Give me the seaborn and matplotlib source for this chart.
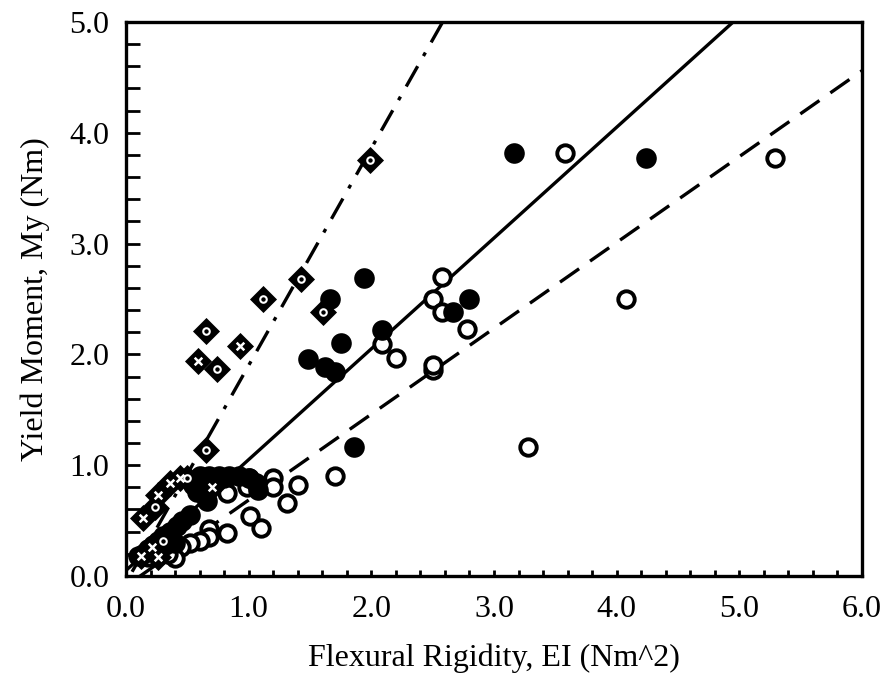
import numpy as np
import pandas as pd
import matplotlib
matplotlib.use("Agg")
import matplotlib.pyplot as plt
import seaborn as sns
from matplotlib.ticker import MultipleLocator, FormatStrFormatter

# filled circles
filled_x = [3.16, 4.24, 1.94, 1.66, 2.09, 2.80, 2.67, 1.48, 1.62, 1.70, 1.75, 1.86,
            0.60, 0.68, 0.76, 0.84, 0.92, 1.00, 1.06, 1.08, 0.55, 0.58, 0.66, 0.52,
            0.46, 0.42, 0.36, 0.30, 0.26, 0.22, 0.18, 0.14, 0.40, 0.32]
filled_y = [3.82, 3.77, 2.69, 2.50, 2.22, 2.50, 2.38, 1.96, 1.89, 1.84, 2.10, 1.16,
            0.90, 0.90, 0.90, 0.90, 0.90, 0.88, 0.84, 0.78, 0.82, 0.76, 0.68, 0.55,
            0.50, 0.45, 0.40, 0.36, 0.32, 0.28, 0.24, 0.20, 0.30, 0.28]

# open circles
open_x = [3.58, 5.29, 4.08, 3.28, 2.58, 2.50, 2.58, 2.78, 2.09, 2.20, 2.50, 2.50,
          1.70, 1.40, 1.31, 1.20, 1.20, 1.01, 1.10, 1.00, 0.99, 0.82, 0.82, 0.68,
          0.68, 0.60, 0.52, 0.45, 0.40, 0.34, 0.26, 0.18, 0.10, 0.80]
open_y = [3.82, 3.77, 2.50, 1.16, 2.70, 2.50, 2.38, 2.23, 2.09, 1.97, 1.86, 1.90,
          0.90, 0.82, 0.66, 0.88, 0.80, 0.54, 0.43, 0.88, 0.80, 0.75, 0.39, 0.42,
          0.35, 0.32, 0.30, 0.26, 0.16, 0.20, 0.18, 0.17, 0.18, 0.88]

# diamonds, with inner symbol
diam_x = [1.99, 1.43, 1.12, 1.61, 0.65, 0.59, 0.74, 0.93, 0.65, 0.14,
          0.24, 0.26, 0.36, 0.44, 0.50, 0.30, 0.21, 0.26, 0.12, 0.70]
diam_y = [3.75, 2.68, 2.50, 2.38, 2.21, 1.94, 1.87, 2.08, 1.14, 0.52,
          0.62, 0.73, 0.84, 0.88, 0.88, 0.32, 0.26, 0.17, 0.18, 0.80]
diam_in = ["o", "o", "o", "o", "o", "x", "o", "x", "o", "x",
           "o", "x", "x", "x", "o", "o", "x", "x", "x", "x"]

# fitted lines: (slope, intercept, x start, x end)
solid_fit = (1.00, 0.05, 0.0, 4.95)
dashed_fit = (0.775, -0.09, 0.11, 6.0)
dashdot_fit = (1.96, -0.06, 0.05, 2.58)

sns.set_style("ticks")
plt.rcParams["font.family"] = ["Liberation Serif", "DejaVu Serif"]
plt.rcParams["text.color"] = "black"
plt.rcParams["axes.labelcolor"] = "black"

fig = plt.figure(figsize=(8.89, 6.83), dpi=100)
ax = fig.add_axes([0.1417, 0.1567, 0.8279, 0.8111])


def fit_line(fit, n=2):
    m, b, x0, x1 = fit
    xs = np.linspace(x0, x1, n)
    return pd.DataFrame({"x": xs, "y": m * xs + b})


lw = 2.4
d = fit_line(solid_fit)
ax.plot(d["x"], d["y"], color="black", lw=lw, zorder=1)
d = fit_line(dashed_fit)
ax.plot(d["x"], d["y"], color="black", lw=lw, dashes=(7, 4), zorder=1)
d = fit_line(dashdot_fit)
ax.plot(d["x"], d["y"], color="black", lw=lw, dashes=(7, 3.5, 1.2, 3.5), zorder=1)

sns.scatterplot(x=open_x, y=open_y, ax=ax, marker="o", s=140, facecolor="white",
                edgecolor="black", linewidth=2.8, zorder=3)
sns.scatterplot(x=filled_x, y=filled_y, ax=ax, marker="o", s=220, color="black",
                edgecolor="black", linewidth=0, zorder=4)

dd = pd.DataFrame({"x": diam_x, "y": diam_y, "inner": diam_in})
sns.scatterplot(data=dd, x="x", y="y", ax=ax, marker="D", s=190, color="black",
                edgecolor="black", linewidth=0, zorder=5)
sub = dd[dd["inner"] == "o"]
sns.scatterplot(data=sub, x="x", y="y", ax=ax, marker="o", s=22, facecolor="black",
                edgecolor="white", linewidth=1.5, zorder=6)
sub = dd[dd["inner"] == "x"]
sns.scatterplot(data=sub, x="x", y="y", ax=ax, marker="x", s=30, color="white",
                linewidth=1.8, zorder=6)

ax.set_xlim(0, 6)
ax.set_ylim(0, 5)
ax.xaxis.set_major_locator(MultipleLocator(1.0))
ax.yaxis.set_major_locator(MultipleLocator(1.0))
ax.xaxis.set_minor_locator(MultipleLocator(0.2))
ax.yaxis.set_minor_locator(MultipleLocator(0.2))
ax.xaxis.set_major_formatter(FormatStrFormatter("%.1f"))
ax.yaxis.set_major_formatter(FormatStrFormatter("%.1f"))
ax.tick_params(axis="both", which="both", direction="in", width=2, labelsize=23,
               colors="black")
ax.tick_params(axis="y", which="both", length=10, pad=12)
ax.tick_params(axis="x", which="both", length=4, pad=14)
for sp in ax.spines.values():
    sp.set_linewidth(2.4)
    sp.set_color("black")
    sp.set_visible(True)

ax.set_xlabel("Flexural Rigidity, EI (Nm^2)", fontsize=23, labelpad=14)
ax.set_ylabel("Yield Moment, My (Nm)", fontsize=23, labelpad=14)

fig.savefig("out.png", dpi=100)
